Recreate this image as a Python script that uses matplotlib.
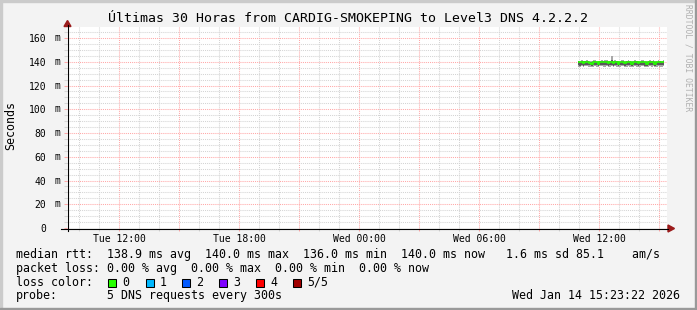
import datetime as dt
import matplotlib
matplotlib.use("Agg")
import matplotlib.pyplot as plt
import matplotlib.dates as mdates
from matplotlib.patches import Rectangle, Polygon
from matplotlib.lines import Line2D
from matplotlib.ticker import MultipleLocator, FuncFormatter

# ---- data ----
t_start = dt.datetime(2026, 1, 13, 9, 23, 22)
t_end = dt.datetime(2026, 1, 14, 15, 23, 22)
data_start = dt.datetime(2026, 1, 14, 10, 55)
step_minutes = 5

median_ms = [139.8, 139.5, 140.0, 138.9, 139.6, 140.1, 139.7, 139.2, 137.8, 139.9,
             140.0, 139.4, 138.1, 139.8, 140.2, 139.5, 139.9, 140.0, 138.6, 139.7,
             139.9, 139.3, 140.1, 139.8, 138.4, 139.6, 140.0, 139.9, 139.1, 139.8,
             140.2, 139.7, 137.9, 139.5, 140.0, 139.8, 138.8, 139.6, 140.1, 139.9,
             139.4, 138.2, 139.8, 140.0, 139.7, 139.9, 138.5, 139.6, 140.0, 139.8,
             139.5, 140.0]
ping_min_ms = [136.0, 135.7, 136.2, 135.4, 136.1, 136.3, 135.9, 135.6, 135.2, 136.0,
               136.2, 135.8, 135.3, 136.1, 136.4, 135.7, 136.0, 136.2, 135.5, 135.9,
               136.1, 135.6, 136.3, 136.0, 135.4, 135.8, 136.2, 136.1, 135.5, 136.0,
               136.3, 135.9, 135.2, 135.7, 136.2, 136.0, 135.4, 135.8, 136.3, 136.1,
               135.6, 135.3, 136.0, 136.2, 135.9, 136.1, 135.5, 135.8, 136.2, 136.0,
               135.7, 136.2]
ping_low_ms = [137.2, 136.8, 137.5, 136.7, 137.3, 137.6, 137.1, 136.9, 136.2, 137.4,
               137.5, 137.0, 136.4, 137.2, 137.7, 136.9, 137.3, 137.5, 136.6, 137.1,
               137.3, 136.8, 137.6, 137.2, 136.5, 137.0, 137.5, 137.3, 136.7, 137.2,
               137.6, 137.1, 136.3, 136.9, 137.5, 137.2, 136.6, 137.0, 137.6, 137.3,
               136.8, 136.4, 137.2, 137.5, 137.1, 137.3, 136.6, 137.0, 137.5, 137.2,
               136.9, 137.5]
ping_high_ms = [140.4, 140.2, 140.6, 140.0, 140.3, 140.7, 140.4, 140.1, 139.6, 140.5,
                140.6, 140.2, 139.7, 140.4, 140.8, 140.3, 140.5, 140.6, 139.9, 140.3,
                141.5, 140.0, 140.7, 140.4, 139.8, 140.2, 140.6, 140.5, 139.9, 140.4,
                140.8, 140.3, 139.6, 140.1, 140.6, 140.4, 139.9, 140.2, 140.7, 140.5,
                140.0, 139.7, 140.4, 140.6, 140.3, 140.5, 139.8, 140.2, 140.6, 140.4,
                140.1, 140.6]
ping_max_ms = [141.0, 140.8, 141.2, 140.6, 140.9, 141.3, 141.0, 140.7, 140.5, 141.1,
               141.2, 140.8, 140.4, 141.0, 141.4, 140.9, 141.1, 141.2, 140.6, 140.9,
               145.0, 140.7, 141.3, 141.0, 140.5, 140.8, 141.2, 141.1, 140.6, 141.0,
               141.4, 140.9, 140.4, 140.7, 141.2, 141.0, 140.6, 140.8, 141.3, 141.1,
               140.7, 140.4, 141.0, 141.2, 140.9, 141.1, 140.5, 140.8, 141.2, 141.0,
               140.7, 141.2]

loss_labels = ["0", "1", "2", "3", "4", "5/5"]
loss_colors = ["#26ff00", "#00b8ff", "#0059ff", "#7e00ff", "#ff0000", "#a10000"]

legend_rtt = ("median rtt:  138.9 ms avg  140.0 ms max  136.0 ms min  "
              "140.0 ms now   1.6 ms sd 85.1    am/s")
legend_loss = "packet loss: 0.00 % avg  0.00 % max  0.00 % min  0.00 % now"
probe_text = "5 DNS requests every 300s"
stamp_text = "Wed Jan 14 15:23:22 2026"
title = "Últimas 30 Horas from CARDIG-SMOKEPING to Level3 DNS 4.2.2.2"

# ---- figure ----
W, H = 697, 310
mono = "DejaVu Sans Mono"
plt.rcParams["font.family"] = mono

fig = plt.figure(figsize=(W / 100, H / 100), dpi=100, facecolor="#f3f3f3")


def fx(px):
    return px / W


def fy(py):
    return 1 - py / H


ax = fig.add_axes([fx(67), fy(228), fx(600), (228 - 27) / H], facecolor="white")

edges = [mdates.date2num(data_start + dt.timedelta(minutes=step_minutes * i))
         for i in range(len(median_ms) + 1)]

# smoke (spread of the pings) and the median line
ax.stairs(ping_max_ms, edges, baseline=ping_min_ms, fill=True, color="#a8a8a8", lw=0, zorder=3)
ax.stairs(ping_high_ms, edges, baseline=ping_low_ms, fill=True, color="#5a5a5a", lw=0, zorder=4)
ax.stairs(median_ms, edges, baseline=None, color=loss_colors[0], lw=1.2, zorder=5)

ax.set_xlim(mdates.date2num(t_start), mdates.date2num(t_end))
ax.set_ylim(0, 169.3)

grid_minor = "#d4d4d4"
grid_major = "#ffa8a8"

ax.xaxis.set_major_locator(mdates.HourLocator(byhour=range(0, 24, 3)))
ax.xaxis.set_minor_locator(mdates.HourLocator())


def xfmt(x, pos):
    d = mdates.num2date(x)
    return d.strftime("%a %H:%M") if d.hour % 6 == 0 else ""


ax.xaxis.set_major_formatter(FuncFormatter(xfmt))
ax.yaxis.set_major_locator(MultipleLocator(20))
ax.yaxis.set_minor_locator(MultipleLocator(5))
ax.yaxis.set_major_formatter(FuncFormatter(lambda v, pos: "%d" % v))

ax.grid(which="major", color=grid_major, lw=0.75, ls=(0, (1, 1)), zorder=1)
ax.grid(which="minor", color=grid_minor, lw=0.75, ls=(0, (1, 1)), zorder=1)
ax.set_axisbelow(True)

ax.tick_params(which="both", direction="out", length=2.5, width=0.75, labelsize=7)
ax.tick_params(which="major", color=grid_major)
ax.tick_params(which="minor", color=grid_minor)
ax.tick_params(axis="y", which="major", pad=12.5)
ax.tick_params(axis="x", which="major", pad=1.5)
for s in ax.spines.values():
    s.set_visible(False)

# unit next to the y labels
for v in range(20, 170, 20):
    ax.text(-10 / 600, v, "m", transform=ax.get_yaxis_transform(),
            ha="center", va="center", fontsize=7)

# axes lines and arrows
fig.add_artist(Line2D([fx(61), fx(668)], [fy(228.5), fy(228.5)], color="black", lw=0.8))
fig.add_artist(Line2D([fx(67.5), fx(67.5)], [fy(231), fy(25)], color="black", lw=0.8))
arrow_c = "#9b1b1b"
fig.add_artist(Polygon([[fx(64), fy(26.5)], [fx(71), fy(26.5)], [fx(67.5), fy(20.5)]],
                       closed=True, color=arrow_c, transform=fig.transFigure))
fig.add_artist(Polygon([[fx(668), fy(225)], [fx(668), fy(232)], [fx(674.5), fy(228.5)]],
                       closed=True, color=arrow_c, transform=fig.transFigure))

# texts
fig.text(fx(347.5), fy(19), title, ha="center", va="center", fontsize=9.5)
fig.text(fx(10.5), fy(125), "Seconds", rotation=90, ha="center", va="center", fontsize=8.4)
fig.text(fx(688), fy(58), "RRDTOOL / TOBI OETIKER", rotation=270, ha="center",
         va="center", fontsize=5.8, color="#b0b0b0")

fig.text(fx(16), fy(254.3), legend_rtt, ha="left", va="center", fontsize=8.4)
fig.text(fx(16), fy(268.3), legend_loss, ha="left", va="center", fontsize=8.4)
fig.text(fx(16), fy(282.3), "loss color:", ha="left", va="center", fontsize=8.4)
fig.text(fx(16), fy(295.7), "probe:", ha="left", va="center", fontsize=8.4)
fig.text(fx(107), fy(295.7), probe_text, ha="left", va="center", fontsize=8.4)
fig.text(fx(680), fy(295.7), stamp_text, ha="right", va="center", fontsize=8.4)

sq_x = [108, 145.5, 182, 219, 256, 293]
for x0, lab, col in zip(sq_x, loss_labels, loss_colors):
    fig.add_artist(Rectangle((fx(x0), fy(286.5)), fx(8), 8 / H, facecolor=col,
                             edgecolor="black", lw=0.75, transform=fig.transFigure))
    fig.text(fx(x0 + 14), fy(282.3), lab, ha="left", va="center", fontsize=8.4)

# 3D border
fig.add_artist(Rectangle((0, 1 - 2 / H), 1, 2 / H, color="#cbcbcb", transform=fig.transFigure))
fig.add_artist(Rectangle((0, 0), 2 / W, 1, color="#cbcbcb", transform=fig.transFigure))
fig.add_artist(Rectangle((0, 0), 1, 2 / H, color="#999999", transform=fig.transFigure))
fig.add_artist(Rectangle((1 - 2 / W, 0), 2 / W, 1, color="#999999", transform=fig.transFigure))

fig.savefig("out.png", dpi=100, facecolor=fig.get_facecolor())
